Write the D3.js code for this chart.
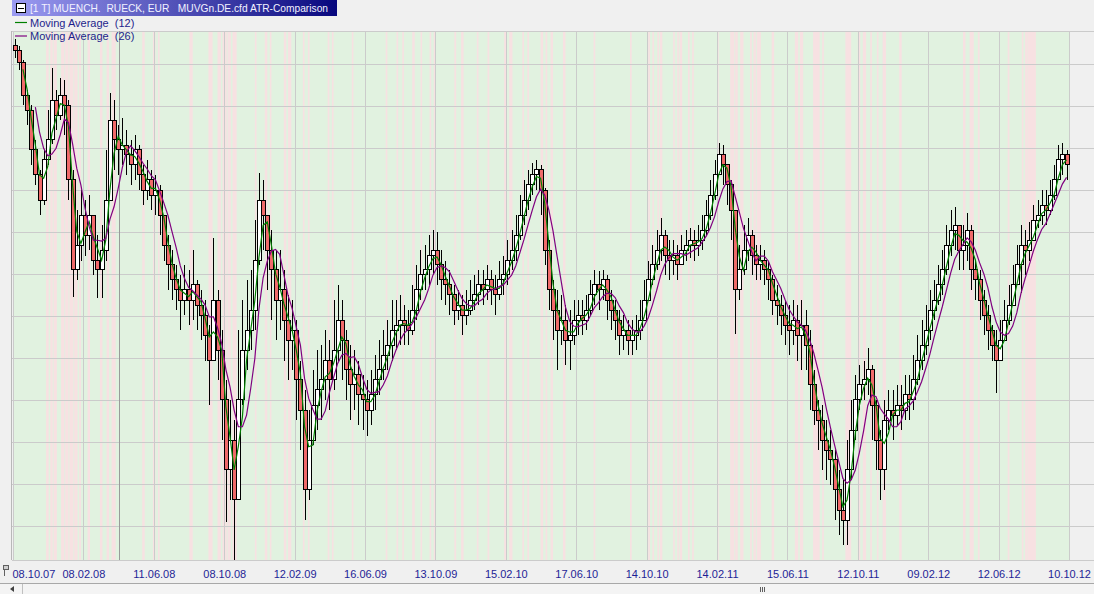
<!DOCTYPE html>
<html>
<head>
<meta charset="utf-8">
<script src="https://cdn.jsdelivr.net/npm/d3@7"></script>
<style>
    html, body { margin: 0; padding: 0; background: #f0f0f0; overflow: hidden; }
    svg { display: block; font-family: Arial, "Liberation Sans", sans-serif; }
</style>
</head>
<body>
<svg id="chart" width="1094" height="594"></svg>
<script>
/* =======================
   DATA (weekly candles)
   ======================= */

const titleText = "[1 T] MUENCH.  RUECK, EUR   MUVGn.DE.cfd ATR-Comparison";

// x axis is a trading-day index, labels every 85 trading days
const tickDays = [0, 85, 170, 255, 340, 425, 510, 595, 680, 765, 850, 935, 1020, 1105, 1190, 1275];
const tickLabels = ["08.10.07", "08.02.08", "11.06.08", "08.10.08", "12.02.09", "16.06.09", "13.10.09", "15.02.10",
    "17.06.10", "14.10.10", "14.02.11", "15.06.11", "12.10.11", "09.02.12", "12.06.12", "10.10.12"];

const priceGrid = [135, 130, 125, 120, 115, 110, 105, 100, 95, 90, 85, 80];

const opens = [
    137.2, 136.6, 135.2, 131.3, 129.5, 124.8, 121.8, 118.8, 123.6, 126.0,
    130.7, 128.9, 131.3, 130.1, 121.2, 110.5, 113.4, 117.0, 114.6, 117.0,
    111.6, 110.5, 112.8, 118.8, 128.3, 126.0, 124.8, 125.3, 124.2, 123.0,
    124.8, 121.8, 120.0, 121.2, 119.4, 120.0, 117.0, 113.4, 111.1, 109.3,
    108.1, 106.9, 108.1, 106.9, 108.7, 106.3, 105.1, 102.7, 99.7, 106.9,
    100.9, 95.0, 86.7, 90.2, 83.1, 95.0, 100.9, 103.3, 105.7, 111.6,
    118.8, 117.0, 112.8, 110.5, 106.9, 108.1, 104.5, 102.1, 103.3, 97.4,
    93.8, 84.3, 90.2, 94.4, 96.2, 97.4, 99.7, 97.4, 100.9, 104.5,
    102.1, 98.6, 96.8, 98.0, 95.6, 95.0, 93.8, 95.6, 97.4, 98.6,
    100.3, 101.5, 103.3, 103.9, 104.5, 103.9, 103.3, 105.7, 108.1, 109.9,
    110.5, 112.2, 112.8, 111.1, 109.3, 108.7, 107.5, 105.7, 106.3, 105.1,
    105.7, 106.9, 107.5, 108.7, 108.1, 109.3, 108.1, 107.5, 109.3, 109.9,
    111.6, 112.8, 114.6, 117.0, 118.8, 120.6, 121.8, 122.4, 120.0, 112.8,
    108.1, 105.7, 103.3, 104.5, 102.1, 102.7, 104.5, 105.1, 104.5, 105.7,
    107.5, 108.7, 108.1, 109.3, 106.9, 105.7, 104.5, 102.7, 103.3, 102.1,
    102.7, 103.3, 104.5, 106.9, 109.3, 111.1, 112.8, 114.6, 112.2, 111.6,
    112.2, 111.1, 112.8, 113.4, 114.0, 113.4, 114.0, 115.2, 117.0, 119.4,
    121.8, 124.2, 123.0, 120.6, 117.6, 108.1, 110.5, 112.8, 114.6, 112.2,
    111.1, 111.6, 110.5, 109.3, 106.9, 106.3, 105.1, 103.9, 103.3, 104.5,
    102.7, 103.9, 101.5, 96.8, 93.8, 92.6, 90.2, 89.0, 87.9, 84.3,
    81.9, 80.7, 86.7, 91.4, 95.0, 96.8, 97.4, 98.6, 94.4, 90.2,
    86.7, 92.6, 93.8, 93.2, 94.4, 93.8, 95.6, 95.0, 97.4, 99.7,
    101.5, 103.3, 105.7, 106.9, 108.7, 110.5, 113.4, 115.2, 115.8, 112.8,
    113.4, 115.2, 110.5, 109.3, 106.9, 105.1, 103.3, 101.5, 99.7, 102.1,
    104.5, 106.3, 108.7, 111.1, 113.4, 112.8, 114.0, 116.4, 117.0, 118.2,
    117.6, 119.4, 121.2, 123.6, 124.2
];

const highs = [
    138.0, 137.2, 135.5, 131.9, 130.1, 126.0, 122.4, 124.8, 129.5, 134.5,
    131.9, 133.3, 133.1, 130.7, 122.4, 117.6, 120.0, 118.8, 119.4, 117.0,
    114.6, 115.8, 124.8, 131.5, 130.7, 127.7, 128.6, 127.1, 126.0, 126.5,
    125.3, 123.0, 123.6, 122.4, 121.8, 120.6, 117.0, 114.6, 112.8, 111.1,
    109.9, 111.1, 110.5, 112.8, 109.3, 108.1, 106.9, 103.9, 114.3, 108.1,
    103.3, 97.4, 95.0, 92.6, 103.3, 106.9, 109.3, 110.5, 116.4, 122.0,
    121.2, 117.0, 115.2, 112.8, 112.8, 110.5, 107.5, 106.9, 104.5, 99.7,
    96.2, 93.8, 98.6, 100.9, 101.5, 103.3, 102.1, 106.9, 108.7, 106.9,
    103.3, 101.5, 100.9, 99.7, 98.0, 97.4, 98.6, 100.3, 102.1, 103.3,
    104.5, 106.9, 106.9, 107.5, 106.3, 105.7, 108.7, 111.1, 112.8, 113.4,
    114.6, 115.2, 115.0, 112.8, 111.6, 110.5, 108.7, 108.1, 107.5, 108.1,
    109.3, 109.9, 110.5, 110.5, 111.1, 110.5, 109.9, 111.6, 112.2, 114.0,
    115.2, 117.0, 119.4, 121.2, 122.4, 123.2, 123.6, 123.0, 120.2, 114.0,
    109.3, 108.1, 107.5, 106.3, 105.7, 106.9, 106.9, 106.9, 107.5, 109.3,
    110.5, 110.3, 110.5, 109.9, 108.1, 106.9, 105.7, 105.1, 104.5, 104.5,
    105.1, 106.9, 109.3, 111.6, 113.4, 115.2, 116.7, 115.2, 114.0, 114.0,
    113.4, 114.6, 115.2, 115.5, 115.2, 115.8, 117.0, 118.8, 121.2, 123.6,
    125.6, 125.3, 123.0, 121.2, 117.6, 113.4, 115.8, 116.7, 115.2, 113.4,
    113.4, 112.8, 111.6, 109.9, 108.7, 107.5, 106.9, 106.3, 106.9, 106.3,
    106.9, 105.7, 103.3, 98.6, 95.0, 94.4, 92.6, 91.4, 89.0, 86.7,
    85.5, 90.2, 95.0, 98.0, 99.2, 99.7, 101.2, 99.2, 95.0, 91.4,
    95.0, 96.2, 96.2, 96.8, 96.8, 98.0, 98.0, 100.3, 102.7, 104.5,
    106.3, 108.1, 109.3, 111.1, 112.8, 115.8, 117.6, 118.0, 115.8, 115.8,
    117.3, 115.8, 111.6, 110.5, 108.1, 106.3, 103.9, 103.3, 104.5, 106.9,
    108.7, 111.1, 113.4, 115.8, 115.2, 116.2, 118.2, 118.8, 120.0, 120.0,
    121.2, 123.0, 125.3, 125.6, 124.8
];

const lows = [
    135.7, 134.3, 130.1, 127.7, 123.0, 120.6, 117.0, 118.2, 123.0, 125.5,
    127.1, 128.3, 126.5, 118.8, 107.3, 109.3, 111.6, 112.2, 112.8, 109.9,
    107.1, 107.1, 111.6, 118.8, 122.4, 121.8, 123.0, 121.8, 120.6, 121.2,
    120.0, 118.2, 118.8, 117.6, 117.0, 114.6, 111.6, 108.1, 106.9, 105.7,
    103.3, 105.1, 103.9, 104.5, 103.3, 102.1, 99.7, 94.4, 99.7, 97.4,
    90.2, 80.5, 83.1, 76.0, 83.1, 94.4, 98.6, 100.9, 103.3, 111.1,
    112.8, 108.1, 104.5, 102.1, 103.3, 99.7, 97.4, 98.6, 92.6, 89.0,
    80.7, 83.1, 89.6, 91.4, 92.6, 95.0, 93.8, 96.2, 99.7, 97.4,
    95.0, 92.6, 93.8, 92.0, 91.4, 90.7, 92.0, 93.8, 95.6, 97.4,
    98.6, 99.7, 100.9, 101.5, 101.5, 101.5, 102.7, 104.5, 106.9, 108.1,
    108.7, 109.9, 108.7, 106.9, 106.3, 105.1, 103.9, 104.5, 102.7, 103.9,
    105.1, 105.7, 106.3, 106.3, 106.9, 106.3, 105.1, 106.9, 107.5, 108.7,
    110.5, 111.6, 114.0, 115.8, 117.6, 119.4, 120.0, 117.0, 111.1, 105.7,
    102.1, 98.6, 101.5, 99.2, 98.6, 101.5, 102.7, 102.7, 103.3, 105.1,
    106.3, 105.7, 106.9, 104.5, 103.3, 102.1, 100.3, 100.9, 100.3, 100.3,
    100.9, 102.1, 104.5, 106.9, 108.7, 110.5, 111.6, 109.9, 109.3, 109.9,
    109.3, 111.1, 111.6, 111.9, 111.6, 112.2, 112.8, 114.6, 116.4, 118.8,
    121.8, 120.6, 118.2, 114.0, 102.9, 106.9, 109.9, 111.6, 109.9, 109.3,
    109.3, 108.7, 106.9, 105.1, 103.9, 102.7, 101.5, 100.3, 101.5, 99.7,
    98.6, 98.6, 93.8, 92.0, 89.0, 86.7, 85.5, 84.9, 80.7, 78.9,
    77.7, 77.7, 85.5, 90.2, 93.8, 95.0, 95.6, 90.2, 86.7, 83.1,
    84.3, 91.4, 90.2, 92.0, 91.4, 92.6, 92.6, 93.8, 96.8, 98.6,
    100.3, 102.1, 104.5, 106.3, 107.5, 109.9, 112.2, 112.8, 110.5, 110.5,
    111.6, 108.1, 106.9, 104.5, 102.7, 100.9, 99.7, 95.8, 99.7, 102.1,
    103.9, 106.3, 108.7, 107.7, 109.9, 111.6, 114.0, 115.5, 115.8, 115.8,
    117.0, 118.8, 121.2, 121.8, 121.2
];

const closes = [
    136.6, 135.2, 131.3, 129.5, 124.8, 121.8, 118.8, 123.6, 126.0, 130.7,
    128.9, 131.3, 130.1, 121.2, 110.5, 113.4, 117.0, 114.6, 117.0, 111.6,
    110.5, 112.8, 118.8, 128.3, 126.0, 124.8, 125.3, 124.2, 123.0, 124.8,
    121.8, 120.0, 121.2, 119.4, 120.0, 117.0, 113.4, 111.1, 109.3, 108.1,
    106.9, 108.1, 106.9, 108.7, 106.3, 105.1, 102.7, 99.7, 106.9, 100.9,
    95.0, 86.7, 90.2, 83.1, 95.0, 100.9, 103.3, 105.7, 111.6, 118.8,
    117.0, 112.8, 110.5, 106.9, 108.1, 104.5, 102.1, 103.3, 97.4, 93.8,
    84.3, 90.2, 94.4, 96.2, 97.4, 99.7, 97.4, 100.9, 104.5, 102.1,
    98.6, 96.8, 98.0, 95.6, 95.0, 93.8, 95.6, 97.4, 98.6, 100.3,
    101.5, 103.3, 103.9, 104.5, 103.9, 103.3, 105.7, 108.1, 109.9, 110.5,
    112.2, 112.8, 111.1, 109.3, 108.7, 107.5, 105.7, 106.3, 105.1, 105.7,
    106.9, 107.5, 108.7, 108.1, 109.3, 108.1, 107.5, 109.3, 109.9, 111.6,
    112.8, 114.6, 117.0, 118.8, 120.6, 121.8, 122.4, 120.0, 112.8, 108.1,
    105.7, 103.3, 104.5, 102.1, 102.7, 104.5, 105.1, 104.5, 105.7, 107.5,
    108.7, 108.1, 109.3, 106.9, 105.7, 104.5, 102.7, 103.3, 102.1, 102.7,
    103.3, 104.5, 106.9, 109.3, 111.1, 112.8, 114.6, 112.2, 111.6, 112.2,
    111.1, 112.8, 113.4, 114.0, 113.4, 114.0, 115.2, 117.0, 119.4, 121.8,
    124.2, 123.0, 120.6, 117.6, 108.1, 110.5, 112.8, 114.6, 112.2, 111.1,
    111.6, 110.5, 109.3, 106.9, 106.3, 105.1, 103.9, 103.3, 104.5, 102.7,
    103.9, 101.5, 96.8, 93.8, 92.6, 90.2, 89.0, 87.9, 84.3, 81.9,
    80.7, 86.7, 91.4, 95.0, 96.8, 97.4, 98.6, 94.4, 90.2, 86.7,
    92.6, 93.8, 93.2, 94.4, 93.8, 95.6, 95.0, 97.4, 99.7, 101.5,
    103.3, 105.7, 106.9, 108.7, 110.5, 113.4, 115.2, 115.8, 112.8, 113.4,
    115.2, 110.5, 109.3, 106.9, 105.1, 103.3, 101.5, 99.7, 102.1, 104.5,
    106.3, 108.7, 111.1, 113.4, 112.8, 114.0, 116.4, 117.0, 118.2, 117.6,
    119.4, 121.2, 123.6, 124.2, 123.0
];

// trading-day ranges where the ATR comparison flags (pink background)
const atrDays = [
    [40, 42], [45, 47], [49, 52], [58, 61], [63, 66], [68, 72], [74, 77], [80, 81], [90, 92], [105, 107],
    [113, 115], [119, 123], [156, 158], [169, 171], [175, 176], [213, 216], [236, 240], [247, 250], [253, 257], [259, 262],
    [265, 269], [292, 293], [304, 306], [310, 311], [327, 329], [332, 335], [350, 351], [356, 357], [380, 381], [385, 386],
    [409, 410], [450, 451], [463, 464], [470, 471], [482, 484], [492, 493], [503, 504], [508, 509], [533, 534], [541, 543],
    [560, 561], [573, 574], [593, 595], [599, 602], [615, 616], [621, 622], [637, 639], [643, 644], [649, 651], [664, 666],
    [701, 702], [745, 746], [767, 768], [772, 773], [778, 779], [781, 783], [797, 798], [802, 803], [805, 807], [815, 816],
    [820, 821], [850, 851], [866, 870], [872, 874], [878, 881], [890, 891], [894, 896], [898, 902], [916, 918], [944, 947],
    [950, 953], [966, 973], [977, 978], [1005, 1011], [1020, 1022], [1026, 1029], [1035, 1036], [1043, 1044], [1050, 1053], [1070, 1072],
    [1147, 1149], [1155, 1159], [1165, 1166], [1201, 1202], [1218, 1219], [1222, 1224], [1225, 1234]
];

const cursorDay = 128;
const maPeriods = [12, 26];      // in trading days
const maColors = ["#008000", "#800080"];

/* =======================
   LAYOUT
   ======================= */
const W = 1094;
const plotLeft = 12, plotTop = 31, plotBottom = 560;
const dataRight = 1069;

const svg = d3.select("#chart");

const x = d3.scaleLinear().domain([0, 1275]).range([13, dataRight]);
const y = d3.scaleLinear().domain([75.95, 138.93]).range([plotBottom, plotTop]);

const candles = closes.map((c, i) => ({
    day: i * 5 + 2,
    o: opens[i], h: highs[i], l: lows[i], c
}));

// background: green where there is data, pink on flagged days
svg.append("rect")
    .attr("x", x(0)).attr("y", plotTop)
    .attr("width", x(1275) - x(0) + 1).attr("height", plotBottom - plotTop)
    .attr("fill", "#e1f2e0");

svg.append("g").selectAll("rect")
    .data(atrDays)
    .join("rect")
    .attr("x", d => x(d[0]))
    .attr("y", plotTop)
    .attr("width", d => Math.max(1.5, x(d[1] + 1) - x(d[0])))
    .attr("height", plotBottom - plotTop)
    .attr("fill", "#f7e1e2");

// grids
const gridY = svg.append("g")
    .attr("transform", `translate(${plotLeft},0)`)
    .call(d3.axisLeft(y).tickValues(priceGrid).tickSize(-(W - plotLeft)).tickFormat(""));
const gridX = svg.append("g")
    .attr("transform", `translate(0,${plotBottom})`)
    .call(d3.axisBottom(x).tickValues(tickDays).tickSize(-(plotBottom - plotTop)).tickFormat(""));
[gridX, gridY].forEach(g => {
    g.select(".domain").remove();
    g.selectAll("line").attr("stroke", "#cbcbcb").attr("shape-rendering", "crispEdges");
});

// frame lines
svg.append("line").attr("x1", plotLeft).attr("x2", W).attr("y1", plotTop + 0.5).attr("y2", plotTop + 0.5)
    .attr("stroke", "#cbcbcb");
svg.append("line").attr("x1", plotLeft).attr("x2", W).attr("y1", plotBottom + 0.5).attr("y2", plotBottom + 0.5)
    .attr("stroke", "#cbcbcb");
svg.append("line").attr("x1", plotLeft - 0.5).attr("x2", plotLeft - 0.5).attr("y1", plotTop).attr("y2", plotBottom)
    .attr("stroke", "#b8b8b8");

// cursor line
svg.append("line")
    .attr("x1", Math.round(x(cursorDay)) + 0.5).attr("x2", Math.round(x(cursorDay)) + 0.5)
    .attr("y1", plotTop).attr("y2", plotBottom)
    .attr("stroke", "#9a9a9a");

// candles
const cg = svg.append("g").attr("shape-rendering", "crispEdges");
cg.selectAll("line")
    .data(candles)
    .join("line")
    .attr("x1", d => Math.round(x(d.day)) + 0.5)
    .attr("x2", d => Math.round(x(d.day)) + 0.5)
    .attr("y1", d => y(d.h))
    .attr("y2", d => y(d.l))
    .attr("stroke", "#000");
cg.selectAll("rect")
    .data(candles)
    .join("rect")
    .attr("x", d => Math.round(x(d.day)) - 1.5)
    .attr("width", 4)
    .attr("y", d => y(Math.max(d.o, d.c)))
    .attr("height", d => Math.max(1, Math.abs(y(d.o) - y(d.c))))
    .attr("fill", d => d.c >= d.o ? "#ffffff" : "#f06a6a")
    .attr("stroke", "#000");

// moving averages (weekly candles: a period of n days spans ceil(n/5) weekly closes)
maPeriods.forEach((p, k) => {
    const win = Math.ceil(p / 5);
    const ma = candles.map((d, i) => i < win - 1 ? null
        : { day: d.day, v: d3.mean(closes.slice(i - win + 1, i + 1)) }).filter(Boolean);
    svg.append("path")
        .datum(ma)
        .attr("fill", "none")
        .attr("stroke", maColors[k])
        .attr("stroke-width", 1.2)
        .attr("d", d3.line().x(d => x(d.day)).y(d => y(d.v)));
});

// x labels
const axisX = svg.append("g")
    .attr("transform", `translate(0,${plotBottom})`)
    .call(d3.axisBottom(x).tickValues(tickDays).tickSize(0).tickPadding(10)
        .tickFormat((d, i) => tickLabels[i]));
axisX.select(".domain").remove();
axisX.selectAll("text")
    .attr("fill", "#1e1e96")
    .style("font-size", "11px")
    .style("font-family", "Arial, 'Liberation Sans', sans-serif");
axisX.selectAll("text").filter((d, i) => i === 0)
    .attr("text-anchor", "start")
    .attr("x", plotLeft - x(0));

// title bar
const defs = svg.append("defs");
const grad = defs.append("linearGradient").attr("id", "titleGrad");
grad.append("stop").attr("offset", "0%").attr("stop-color", "#9c9cf2");
grad.append("stop").attr("offset", "100%").attr("stop-color", "#08087e");
svg.append("rect").attr("x", 12).attr("y", 0).attr("width", 325).attr("height", 16).attr("fill", "url(#titleGrad)");
svg.append("rect").attr("x", 16.5).attr("y", 3.5).attr("width", 9).attr("height", 9)
    .attr("fill", "#fff").attr("stroke", "#000");
svg.append("line").attr("x1", 18).attr("x2", 24).attr("y1", 8.5).attr("y2", 8.5).attr("stroke", "#000");
svg.append("text").attr("x", 30).attr("y", 12)
    .attr("fill", "#f2f2ff").style("font-size", "11px").style("white-space", "pre")
    .attr("textLength", 298).attr("lengthAdjust", "spacingAndGlyphs")
    .text(titleText);

// legend
maPeriods.forEach((p, k) => {
    const ly = 22.5 + k * 13.5;
    svg.append("line").attr("x1", 15).attr("x2", 27).attr("y1", ly).attr("y2", ly)
        .attr("stroke", maColors[k]).attr("stroke-width", 1.2);
    svg.append("text").attr("x", 30).attr("y", ly + 4)
        .attr("fill", "#1e1e8c").style("font-size", "11px").style("white-space", "pre")
        .text(`Moving Average  (${p})`);
});

// small pin icon bottom-left
svg.append("rect").attr("x", 3.5).attr("y", 565.5).attr("width", 5).attr("height", 4)
    .attr("fill", "#d0d0d0").attr("stroke", "#606060");
svg.append("line").attr("x1", 4.5).attr("x2", 4.5).attr("y1", 569).attr("y2", 576).attr("stroke", "#606060");

// scrollbar
svg.append("rect").attr("x", 0).attr("y", 583).attr("width", W).attr("height", 11).attr("fill", "#f4f4f4");
svg.append("line").attr("x1", 0).attr("x2", W).attr("y1", 583.5).attr("y2", 583.5).attr("stroke", "#a8a8a8");
svg.append("line").attr("x1", 22.5).attr("x2", 22.5).attr("y1", 584).attr("y2", 594).attr("stroke", "#c0c0c0");
svg.append("path").attr("d", "M10,589 L14,586 L14,592 Z").attr("fill", "#404040");
[760.5, 762.5, 764.5].forEach(gx => {
    svg.append("line").attr("x1", gx).attr("x2", gx).attr("y1", 587).attr("y2", 592).attr("stroke", "#606060");
});
</script>
</body>
</html>
